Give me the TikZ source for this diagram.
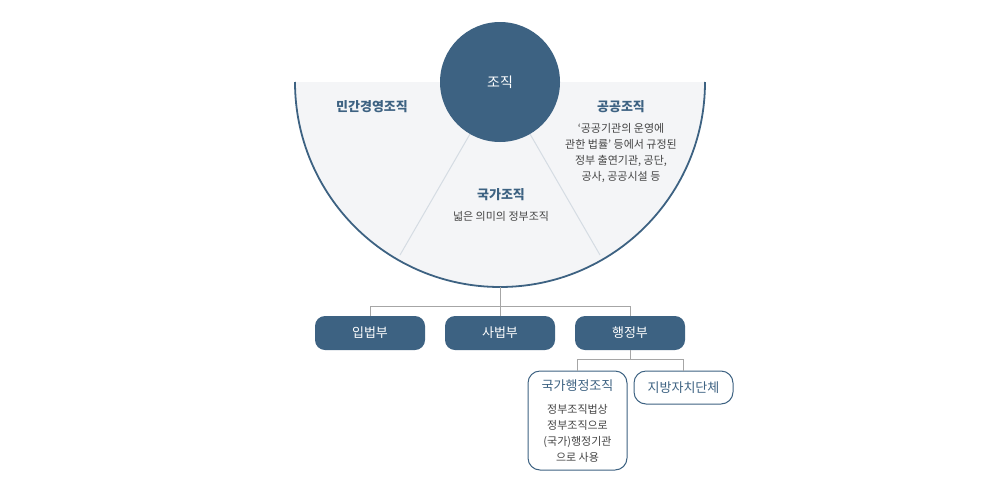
\documentclass[tikz,border=0pt]{standalone}
\usepackage{fontspec}
\setmainfont{Noto Sans CJK KR}
\definecolor{navy}{HTML}{3D6282}
\definecolor{fillg}{HTML}{F4F5F7}
\definecolor{txt}{HTML}{444444}
\definecolor{divl}{HTML}{D5DCE3}
\begin{document}
\begin{tikzpicture}[x=1pt,y=-1pt,
  dark/.style={fill=navy,rounded corners=10pt,minimum width=110pt,minimum height=34pt,text=white,font=\fontsize{13}{15}\selectfont,inner sep=0pt},
  light/.style={draw=navy,line width=1pt,fill=white,rounded corners=12pt,minimum width=99pt,inner sep=0pt,font=\fontsize{13}{15}\selectfont,text=navy},
  conn/.style={draw=black!35,line width=0.7pt},
  ttl/.style={font=\fontsize{13}{15}\selectfont\bfseries,text=navy},
  sm/.style={font=\fontsize{11}{16}\selectfont,text=txt,align=center}]
\useasboundingbox (0,0) rectangle (1000,490);
\fill[fillg] (295,82) arc[start angle=180,end angle=0,radius=205] -- cycle;
\draw[navy,line width=1.8pt] (295,82) arc[start angle=180,end angle=0,radius=205];
\draw[divl,line width=1pt] (470,134) -- (400,255);
\draw[divl,line width=1pt] (530,134) -- (600,255);
\node[circle,fill=navy,minimum size=120pt,text=white,font=\fontsize{14}{16}\selectfont] (org) at (500,82) {조직};
\node[ttl] (priv) at (372,107) {민간경영조직};
\node[ttl] (pub) at (621,107) {공공조직};
\node[sm] (pubd) at (621,153) {‘공공기관의 운영에\\관한 법률’ 등에서 규정된\\정부 출연기관, 공단,\\공사, 공공시설 등};
\node[ttl] (nat) at (501,195) {국가조직};
\node[sm] (natd) at (501,216) {넓은 의미의 정부조직};
\coordinate (bot) at (500,287);
\node[dark] (leg) at (370,333) {입법부};
\node[dark] (jud) at (500,333) {사법부};
\node[dark] (exe) at (630,333) {행정부};
\draw[conn] (bot) -- (500,306) -| (leg.north);
\draw[conn] (500,306) -- (jud.north);
\draw[conn] (500,306) -| (exe.north);
\node[light,minimum height=99pt] (nadm) at (577.5,420.5) {};
\node[font=\fontsize{13}{15}\selectfont,text=navy] at (577.5,386) {국가행정조직};
\node[sm] (nadmd) at (577.5,433) {정부조직법상\\정부조직으로\\(국가)행정기관\\으로 사용};
\node[light,minimum height=33pt] (loc) at (683.5,387.5) {지방자치단체};
\draw[conn] (exe.south) -- (630,359) -| (nadm.north);
\draw[conn] (630,359) -| (loc.north);
\end{tikzpicture}
\end{document}
